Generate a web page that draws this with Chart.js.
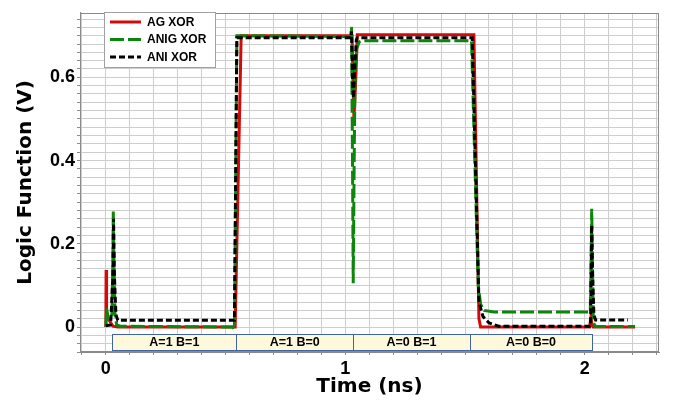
<!DOCTYPE html>
<html>
<head>
<meta charset="utf-8">
<script src="https://cdn.jsdelivr.net/npm/chart.js@4.4.1/dist/chart.umd.min.js"></script>
<style>
  html, body { margin: 0; padding: 0; background: #ffffff; }
  #wrap { width: 675px; height: 401px; position: relative; }
</style>
</head>
<body>
<div id="wrap"><canvas id="c"></canvas></div>
<script>
// ---- Data ----
const agTime    = [0.000, 0.001, 0.003, 0.010, 0.030, 0.050, 0.540, 0.565, 1.028, 1.036, 1.044, 1.050, 1.537, 1.558, 1.565, 2.020, 2.026, 2.030, 2.035, 2.210];
const agValues  = [0.000, 0.137, 0.030, 0.020, 0.002, 0.000, 0.000, 0.700, 0.700, 0.500, 0.600, 0.702, 0.702, 0.020, 0.000, 0.000, 0.024, 0.005, 0.000, 0.000];

const anigTime   = [0.000, 0.003, 0.010, 0.025, 0.029, 0.031, 0.034, 0.038, 0.045, 0.060, 0.530, 0.537, 0.547, 1.022, 1.026, 1.030, 1.033, 1.037, 1.041, 1.048, 1.058, 1.070, 1.527, 1.555, 1.565, 1.580, 1.620, 2.023, 2.026, 2.029, 2.032, 2.036, 2.045, 2.210];
const anigValues = [0.000, 0.045, 0.020, 0.020, 0.150, 0.280, 0.150, 0.030, 0.005, 0.002, 0.000, -0.006, 0.700, 0.698, 0.721, 0.400, 0.105, 0.400, 0.620, 0.670, 0.685, 0.688, 0.688, 0.100, 0.055, 0.040, 0.036, 0.036, 0.150, 0.284, 0.150, 0.010, 0.001, 0.001];

const aniTime   = [0.000, 0.020, 0.029, 0.032, 0.036, 0.042, 0.050, 0.537, 0.547, 1.024, 1.026, 1.030, 1.034, 1.040, 1.046, 1.050, 1.530, 1.558, 1.575, 1.600, 1.640, 2.024, 2.029, 2.033, 2.038, 2.045, 2.180];
const aniValues = [0.003, 0.005, 0.120, 0.260, 0.120, 0.030, 0.016, 0.016, 0.695, 0.695, 0.710, 0.600, 0.550, 0.630, 0.690, 0.695, 0.695, 0.060, 0.025, 0.010, 0.002, 0.002, 0.245, 0.120, 0.030, 0.017, 0.017];

const seriesNames = ['AG XOR', 'ANIG XOR', 'ANI XOR'];

// Input-state annotation boxes
const stateLabels = ['A=1 B=1', 'A=1 B=0', 'A=0 B=1', 'A=0 B=0'];
const stateStarts = [0.027, 0.545, 1.033, 1.520];
const stateEnds   = [0.545, 1.033, 1.520, 2.031];
const stateBoxTop = -0.0175;
const stateBoxBottom = -0.057;

// Axis ticks
const xTickLabels = [0, 1, 2];
const yTickLabels = [0, 0.2, 0.4, 0.6];
const xGridStep = 0.1;
const yGridStep = 0.02;
const xMin = -0.108, xMax = 2.31;
const yMin = -0.06, yMax = 0.755;

function pts(t, v) { return t.map((x, i) => ({ x: x, y: v[i] })); }

function gridValues(min, max, step) {
  const out = [];
  const start = Math.ceil(min / step - 1e-9);
  const end = Math.floor(max / step + 1e-9);
  for (let k = start; k <= end; k++) out.push(+(k * step).toFixed(6));
  return out;
}

function labelFor(list, value) {
  const hit = list.find(l => Math.abs(l - value) < 1e-6);
  return hit === undefined ? '' : String(hit);
}

const GRID = '#cdcdcd';
const AXIS = '#8a8a8a';

const stateBoxPlugin = {
  id: 'stateBoxes',
  afterDatasetsDraw(chart) {
    const { ctx, scales: { x, y } } = chart;
    ctx.save();
    const yt = y.getPixelForValue(stateBoxTop);
    const yb = y.getPixelForValue(stateBoxBottom);
    stateLabels.forEach((lab, i) => {
      const x0 = x.getPixelForValue(stateStarts[i]);
      const x1 = x.getPixelForValue(stateEnds[i]);
      ctx.fillStyle = '#fff9dc';
      ctx.fillRect(x0, yt, x1 - x0, yb - yt);
      ctx.strokeStyle = '#3f64a0';
      ctx.lineWidth = 1;
      ctx.strokeRect(Math.round(x0) + 0.5, Math.round(yt) + 0.5, Math.round(x1 - x0), Math.round(yb - yt));
      ctx.fillStyle = '#000';
      ctx.font = "bold 12.5px 'Liberation Sans', Arial, sans-serif";
      ctx.textAlign = 'center';
      ctx.textBaseline = 'middle';
      ctx.fillText(lab, (x0 + x1) / 2, (yt + yb) / 2 + 0.5);
    });
    ctx.restore();
  }
};

const framePlugin = {
  id: 'frame',
  afterDraw(chart) {
    const { ctx, chartArea: a } = chart;
    ctx.save();
    ctx.strokeStyle = AXIS;
    ctx.lineWidth = 1;
    ctx.strokeRect(Math.round(a.left) + 0.5, Math.round(a.top) + 0.5, Math.round(a.right - a.left) - 1, Math.round(a.bottom - a.top) - 1);
    ctx.restore();
  }
};

const legendPlugin = {
  id: 'customLegend',
  afterDraw(chart) {
    const { ctx } = chart;
    const bx = 104, by = 12, bw = 111, bh = 55;
    ctx.save();
    ctx.fillStyle = '#ffffff';
    ctx.fillRect(bx, by, bw, bh);
    ctx.strokeStyle = '#a0a0a0';
    ctx.lineWidth = 1;
    ctx.strokeRect(bx + 0.5, by + 0.5, bw, bh);
    const rows = [22, 39.5, 57];
    chart.data.datasets.forEach((ds, i) => {
      const yy = rows[i];
      ctx.strokeStyle = ds.borderColor;
      ctx.lineWidth = 3;
      ctx.setLineDash(ds.borderDash || []);
      ctx.beginPath();
      ctx.moveTo(110, yy);
      ctx.lineTo(141, yy);
      ctx.stroke();
      ctx.setLineDash([]);
      ctx.fillStyle = '#000';
      ctx.font = "bold 12px 'Liberation Sans', Arial, sans-serif";
      ctx.textAlign = 'left';
      ctx.textBaseline = 'middle';
      ctx.fillText(ds.label, 147, yy + 0.5);
    });
    ctx.restore();
  }
};

Chart.defaults.font.family = "'Liberation Sans', Arial, sans-serif";
Chart.defaults.color = '#000';

new Chart(document.getElementById('c'), {
  type: 'line',
  data: {
    datasets: [
      { label: seriesNames[0], data: pts(agTime, agValues), borderColor: '#d20a0a', borderWidth: 3, order: 3 },
      { label: seriesNames[1], data: pts(anigTime, anigValues), borderColor: '#0b860b', borderWidth: 3, borderDash: [14, 4], order: 2 },
      { label: seriesNames[2], data: pts(aniTime, aniValues), borderColor: '#000000', borderWidth: 3, borderDash: [6, 3], order: 1 }
    ]
  },
  options: {
    responsive: true,
    maintainAspectRatio: false,
    animation: false,
    devicePixelRatio: 1,
    layout: { padding: { left: 0, right: 16, top: 7, bottom: 0 } },
    elements: { point: { radius: 0, hoverRadius: 0 }, line: { tension: 0, fill: false, borderJoinStyle: 'miter', borderCapStyle: 'butt' } },
    plugins: { legend: { display: false }, tooltip: { enabled: false } },
    scales: {
      x: {
        type: 'linear',
        min: xMin, max: xMax,
        afterBuildTicks(scale) { scale.ticks = gridValues(xMin, xMax, xGridStep).map(v => ({ value: v })); },
        afterFit(scale) { scale.height = 49; },
        ticks: {
          autoSkip: false, maxRotation: 0, padding: 3,
          font: { size: 18, weight: 'bold' },
          callback: (v) => labelFor(xTickLabels, v)
        },
        grid: { color: GRID, lineWidth: 1, tickLength: 3, tickColor: AXIS },
        border: { color: AXIS, width: 1 },
        title: {
          display: true, text: 'Time (ns)',
          font: { family: "'DejaVu Sans', sans-serif", size: 20, weight: 'bold' },
          padding: { top: 0, bottom: 2 }
        }
      },
      y: {
        type: 'linear',
        min: yMin, max: yMax,
        afterBuildTicks(scale) { scale.ticks = gridValues(yMin, yMax, yGridStep).map(v => ({ value: v })); },
        afterFit(scale) { scale.width = 80; },
        ticks: {
          autoSkip: false, padding: 2,
          font: { size: 18, weight: 'bold' },
          callback: (v) => labelFor(yTickLabels, v)
        },
        grid: { color: GRID, lineWidth: 1, tickLength: 3, tickColor: AXIS },
        border: { color: AXIS, width: 1 },
        title: {
          display: true, text: 'Logic Function (V)',
          font: { family: "'DejaVu Sans', sans-serif", size: 20, weight: 'bold' },
          padding: { top: 14, bottom: 0 }
        }
      }
    }
  },
  plugins: [stateBoxPlugin, framePlugin, legendPlugin]
});
</script>
</body>
</html>
